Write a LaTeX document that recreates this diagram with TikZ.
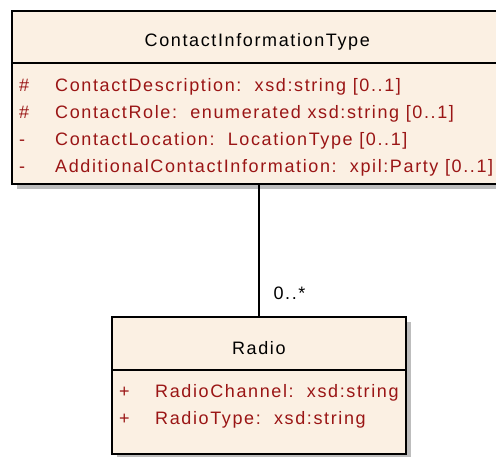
\documentclass[tikz,border=0pt]{standalone}
\usepackage{fontspec}
\setmainfont{Liberation Sans}[LetterSpace=9]
\usetikzlibrary{shadows}
\definecolor{classfill}{HTML}{FBF0E3}
\definecolor{attrred}{HTML}{9A1515}
\definecolor{shadowgray}{HTML}{BDBDBD}
\tikzset{
    classbox/.style={draw, line width=1.6pt, fill=classfill, anchor=north west, inner sep=0pt,
        drop shadow={shadow xshift=5pt, shadow yshift=-5pt, fill=shadowgray, opacity=1}},
    classname/.style={anchor=base, inner sep=0pt, font=\fontsize{18}{27}\selectfont},
    attrs/.style={anchor=base west, inner sep=0pt, text=attrred, font=\fontsize{18}{27}\selectfont},
}
\newcommand{\attrtab}[1]{\begin{tabular}[t]{@{}p{36pt}@{}l@{}}#1\end{tabular}}
\begin{document}
\begin{tikzpicture}[x=1pt,y=-1pt]
    \useasboundingbox (0,0) rectangle (496,457);
    \clip (0,0) rectangle (496,457);
    % classes
    \node [classbox, minimum width=491pt, minimum height=173pt] (cit) at (11,10) {};
    \draw [line width=1.6pt]([yshift=-53pt]cit.north west)--([yshift=-53pt]cit.north east);
    \node [classname] (citname) at ([yshift=-37pt]cit.north) {ContactInformationType};
    \node [attrs] (citattr) at ([xshift=8pt,yshift=-82pt]cit.north west) {\attrtab{
        \# & ContactDescription:\ \ xsd:string [0..1]\\
        \# & ContactRole:\ \ enumerated xsd:string [0..1]\\
        - & ContactLocation:\ \ LocationType [0..1]\\
        - & AdditionalContactInformation:\ \ xpil:Party [0..1]}};
    \node [classbox, minimum width=294pt, minimum height=137pt] (radio) at (111,316) {};
    \draw [line width=1.6pt]([yshift=-54pt]radio.north west)--([yshift=-54pt]radio.north east);
    \node [classname] (radioname) at ([yshift=-39pt]radio.north) {Radio};
    \node [attrs] (radioattr) at ([xshift=8pt,yshift=-82pt]radio.north west) {\attrtab{
        + & RadioChannel:\ \ xsd:string\\
        + & RadioType:\ \ xsd:string}};
    % association
    \draw [line width=1.6pt](radio.north)--(radio.north |- cit.south)
        node [pos=0, anchor=base west, inner sep=0pt, xshift=14pt, yshift=16pt,
            font=\fontsize{18}{27}\selectfont] (mult) {0..*};
\end{tikzpicture}
\end{document}
